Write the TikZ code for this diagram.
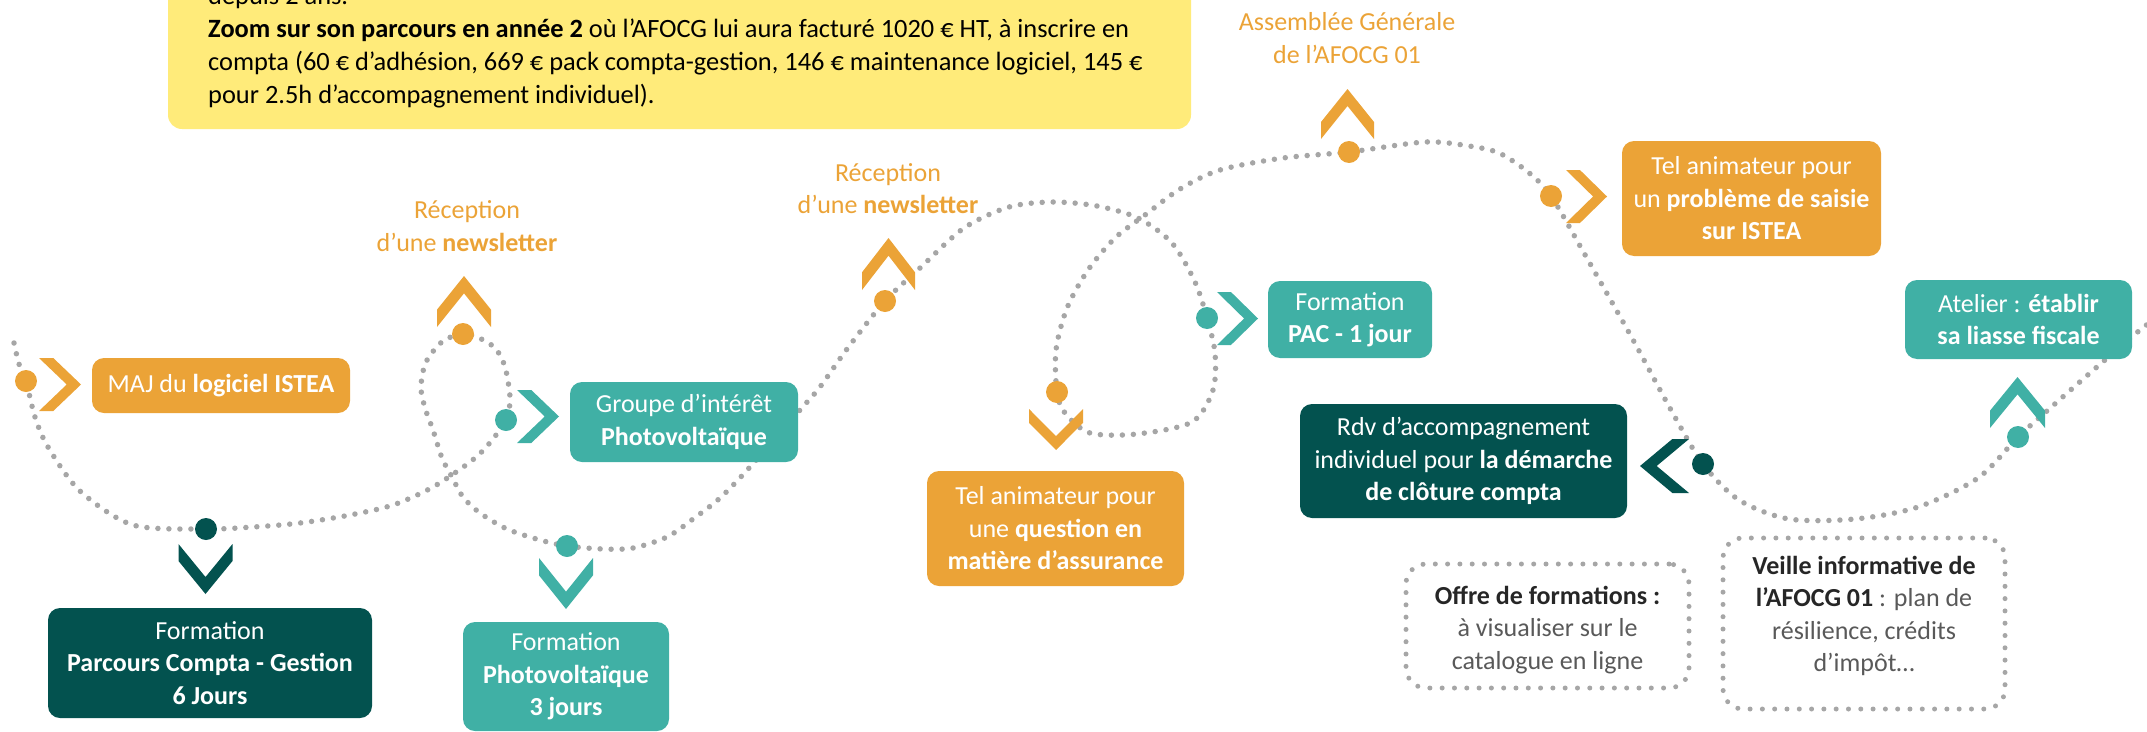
\documentclass[tikz,border=0pt]{standalone}
\usepackage{fontspec}
\setmainfont{Carlito}
\definecolor{orgA}{HTML}{EBA337}
\definecolor{tealA}{HTML}{40B0A5}
\definecolor{darkA}{HTML}{03524F}
\definecolor{yelA}{HTML}{FFEB7A}
\definecolor{dotG}{HTML}{A6A6A6}
\definecolor{txtG}{HTML}{595959}
\definecolor{txtD}{HTML}{262626}
\newcommand\chevshape[6]{\fill[#1,shift={(#2,#3)},rotate=#4] (0,#6) -- ({0.34*#5},#6) -- (#5,0) -- ({0.34*#5},-#6) -- (0,-#6) -- ({0.66*#5},0) -- cycle;}
\begin{document}
\begin{tikzpicture}[x=1pt,y=-1pt,
  box/.style={rounded corners=12pt, inner sep=0pt, align=center, text=white, font=\fontsize{26}{32.5}\selectfont},
  route/.style={draw=dotG, line width=5.5pt, line cap=round, dash pattern=on 0pt off 11pt},
  dot/.style={circle, minimum size=22pt, inner sep=0pt},
  lbl/.style={align=center, text=orgA, font=\fontsize{26}{32.5}\selectfont, inner sep=0pt},
  dbox/.style={draw=dotG, line width=5pt, line cap=round, dash pattern=on 0pt off 12.3pt, rounded corners=20pt, inner sep=0pt},
  gtxt/.style={align=center, text=txtG, font=\fontsize{26}{32.5}\selectfont, inner sep=0pt},
  intro/.style={anchor=base west, inner sep=0pt, text=black, font=\fontsize{26.4}{33}\selectfont}]
\useasboundingbox (0,0) rectangle (2147,731);

% intro box
\node[fill=yelA, rounded corners=14pt, minimum width=1023pt, minimum height=169pt, inner sep=0pt] (introbox) at (679.5,44.5) {};
\node[intro] (intro1) at (208,4) {depuis 2 ans.};
\node[intro] (intro2) at (208,37) {\textbf{Zoom sur son parcours en année 2} où l’AFOCG lui aura facturé 1020 € HT, à inscrire en};
\node[intro] (intro3) at (208,70) {compta (60 € d’adhésion, 669 € pack compta-gestion, 146 € maintenance logiciel, 145 €};
\node[intro] (intro4) at (208,103) {pour 2.5h d’accompagnement individuel).};

% dot positions
\coordinate (pA) at (26,381);
\coordinate (pB) at (206,529);
\coordinate (pC) at (506,420);
\coordinate (pD) at (463,334);
\coordinate (pE) at (567,546);
\coordinate (pF) at (885,301);
\coordinate (pG) at (1207,318);
\coordinate (pH) at (1057,392);
\coordinate (pI) at (1349,152);
\coordinate (pJ) at (1551,196);
\coordinate (pK) at (1703,464);
\coordinate (pL) at (2018,437);

% route
\draw[route] plot[smooth, tension=0.5] coordinates {(14,343) (19,364) (pA) (35,417) (48,447) (80,491) (133,525) (pB) (253,527) (300,523) (350,515) (393,505) (433,487) (470,462) (488,445) (pC) (510,398) (505,367) (495,348) (477,337) (pD) (443,341) (426,362) (421,387) (425,408) (433,430) (442,458) (452,477) (463,497) (480,513) (507,529) (540,540) (pE) (603,549) (633,548) (667,537) (693,519) (720,498) (750,467) (800,410) (820,387) (847,349) (pF) (920,268) (964,228) (1009,207) (1053,202) (1097,206) (1138,218) (1172,243) (1195,282) (pG) (1215,353) (1213,390) (1192,422) (1137,434) (1090,433) (1065,413) (pH) (1056,350) (1067,308) (1088,270) (1115,238) (1145,215) (1180,189) (1220,170) (1283,158) (pI) (1425,142) (1469,146) (1499,153) (1528,172) (pJ) (1584,253) (1632,338) (1671,410) (pK) (1739,500) (1789,519) (1855,519) (1918,507) (1978,478) (pL) (2048,410) (2090,373) (2140,330) (2165,312)};

% boxes
\node[box, fill=orgA, minimum width=258pt, minimum height=55pt] (maj) at (221,385.5) {MAJ du \textbf{logiciel ISTEA}};
\node[box, fill=darkA, minimum width=324pt, minimum height=110pt] (parcours) at (210,663) {Formation\\\textbf{Parcours Compta - Gestion}\\\textbf{6 Jours}};
\node[box, fill=tealA, minimum width=228pt, minimum height=80pt] (groupe) at (684,422) {Groupe d’intérêt\\\textbf{Photovoltaïque}};
\node[box, fill=tealA, minimum width=206pt, minimum height=109pt] (formpv) at (566,676.5) {Formation\\\textbf{Photovoltaïque}\\\textbf{3 jours}};
\node[box, fill=orgA, minimum width=257pt, minimum height=115pt] (telass) at (1055.5,528.5) {Tel animateur pour\\une \textbf{question en}\\\textbf{matière d’assurance}};
\node[box, fill=tealA, minimum width=164pt, minimum height=77pt] (pac) at (1350,319.5) {Formation\\\textbf{PAC - 1 jour}};
\node[box, fill=orgA, minimum width=259pt, minimum height=115pt] (telsaisie) at (1751.5,198.5) {Tel animateur pour\\un \textbf{problème de saisie}\\\textbf{sur ISTEA}};
\node[box, fill=tealA, minimum width=227pt, minimum height=79pt] (atelier) at (2018.5,319.5) {Atelier : \textbf{établir}\\\textbf{sa liasse fiscale}};
\node[box, fill=darkA, minimum width=327pt, minimum height=114pt] (rdv) at (1463.5,461) {Rdv d’accompagnement\\individuel pour \textbf{la démarche}\\\textbf{de clôture compta}};

% dotted info boxes
\node[dbox, minimum width=283pt, minimum height=124pt] (offre) at (1547.5,626) {};
\node[gtxt] (offreT) at (1547.5,630) {\textcolor{txtD}{\textbf{Offre de formations :}}\\à visualiser sur le\\catalogue en ligne};
\node[dbox, minimum width=282pt, minimum height=171pt] (veille) at (1864,623.5) {};
\node[gtxt] (veilleT) at (1864,616) {\textcolor{txtD}{\textbf{Veille informative de}}\\\textcolor{txtD}{\textbf{l’AFOCG 01}} : plan de\\résilience, crédits\\d’impôt…};

% labels
\node[lbl] (news1) at (467,226) {Réception\\d’une \textbf{newsletter}};
\node[lbl] (news2) at (888,188.5) {Réception\\d’une \textbf{newsletter}};
\node[lbl] (ag) at (1347,38) {Assemblée Générale\\de l’AFOCG 01};

% chevrons
\chevshape{orgA}{39}{384.5}{0}{42}{26.5}
\chevshape{darkA}{205.5}{544}{-90}{50}{27}
\chevshape{tealA}{517}{416.5}{0}{42}{26.5}
\chevshape{orgA}{464}{327}{90}{51}{27}
\chevshape{tealA}{566}{558}{-90}{51}{27}
\chevshape{orgA}{888.5}{290}{90}{52}{26.5}
\chevshape{tealA}{1217}{318.5}{0}{41}{26.5}
\chevshape{orgA}{1056}{409}{-90}{41}{27}
\chevshape{orgA}{1347.5}{139}{90}{50}{26.5}
\chevshape{orgA}{1566}{196.5}{0}{41}{26.5}
\chevshape{darkA}{1689}{466}{180}{49}{27}
\chevshape{tealA}{2017.5}{428}{90}{51}{27.5}

% dots
\node[dot, fill=orgA] (dA) at (pA) {};
\node[dot, fill=darkA] (dB) at (pB) {};
\node[dot, fill=tealA] (dC) at (pC) {};
\node[dot, fill=orgA] (dD) at (pD) {};
\node[dot, fill=tealA] (dE) at (pE) {};
\node[dot, fill=orgA] (dF) at (pF) {};
\node[dot, fill=tealA] (dG) at (pG) {};
\node[dot, fill=orgA] (dH) at (pH) {};
\node[dot, fill=orgA] (dI) at (pI) {};
\node[dot, fill=orgA] (dJ) at (pJ) {};
\node[dot, fill=darkA] (dK) at (pK) {};
\node[dot, fill=tealA] (dL) at (pL) {};
\end{tikzpicture}
\end{document}
